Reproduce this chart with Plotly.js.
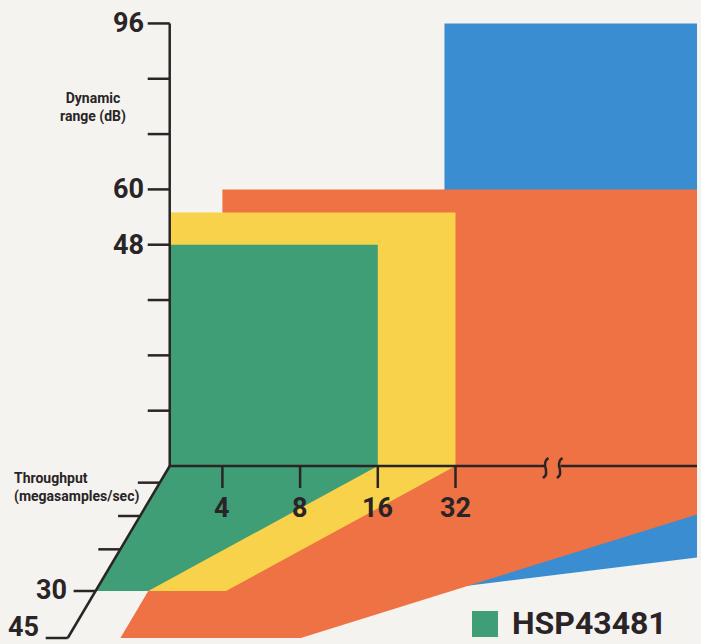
<!DOCTYPE html>
<html><head><meta charset="utf-8">
<script src="https://cdn.plot.ly/plotly-3.0.1.min.js"></script>
<style>html,body{margin:0;padding:0;background:#f4f3ef;}#chart{width:701px;height:644px;}</style>
</head><body><div id="chart"></div>
<script>
// ---------------- data ----------------
const devices = ['HSP43481', 'Device B', 'Device C', 'Device D'];
const dynamicRangeDb = [48, 55, 60, 96];
const startValue = [2.5, 2.5, 4, 29];          // horizontal start of each block
const frontEndValue = [16, 32, 1100, 211000];   // horizontal end at the front (values past the break are off-scale)
const backEndValue = [4, 8, 20, 66];            // horizontal end at the back of the floor
const maxThroughput = [30, 30, 45, 28.8];       // depth (megasamples/sec)
const dbTickVals = [12, 24, 36, 48, 60, 72, 84, 96];
const dbTickText = ['', '', '', '48', '60', '', '', '96'];
const xTickVals = [4, 8, 16, 32];
const xTickText = ['4', '8', '16', '32'];
const depthTickVals = [4, 12, 20, 30, 45];
const depthTickText = ['', '', '', '30', '45'];
const axisOrigin = 2.5;
const axisBreak = 76;
const axisEnd = 1000;
const depthAxisMax = 45;

// ---------------- style / projection ----------------
const colors = ['#3f9e75', '#f8d24a', '#ee7243', '#3b8dd1'];
const ink = '#2a2426';
const FONT = "Roboto, 'DejaVu Sans Condensed', sans-serif";
const X0 = 67, XS = 77.7, Y0 = 466, YS = 4.61, SLANT = 0.593;
function depthPx(d) { return d <= 30 ? d * 125 / 30 : 125 + (d - 30) * 47 / 15; }
function P(v, db, d) { const dy = depthPx(d || 0); return [v * Math.pow(2, -SLANT * dy / XS), db - dy / YS]; }
function shiftX(v, px) { return v * Math.pow(2, px / XS); }
function shiftY(db, px) { return db - px / YS; }
function pxToV(px) { return Math.pow(2, (px - X0) / XS); }
function pxToDb(py) { return (Y0 - py) / YS; }
const L = Math.log10;

const traces = [];
// blocks, back to front
for (const i of [3, 2, 1, 0]) {
  const pts = [
    P(startValue[i], dynamicRangeDb[i], 0),
    P(frontEndValue[i], dynamicRangeDb[i], 0),
    P(frontEndValue[i], 0, 0),
    P(backEndValue[i], 0, maxThroughput[i]),
    P(startValue[i], 0, maxThroughput[i]),
    P(startValue[i], 0, 0)
  ];
  traces.push({
    type: 'scatter', mode: 'lines', name: devices[i],
    x: pts.map(p => p[0]), y: pts.map(p => p[1]),
    fill: 'toself', fillcolor: colors[i], line: { width: 0, color: colors[i] },
    showlegend: false, hoverinfo: 'skip'
  });
}

// axes lines
const ax = { x: [], y: [] };
function seg(a, b) { ax.x.push(a[0], b[0], null); ax.y.push(a[1], b[1], null); }
seg([axisOrigin, 0], [axisOrigin, dbTickVals[dbTickVals.length - 1]]);
dbTickVals.forEach(v => seg([shiftX(axisOrigin, -22), v], [axisOrigin, v]));
seg([axisOrigin, 0], [shiftX(axisBreak, -8), 0]);
seg([shiftX(axisBreak, 8), 0], [axisEnd, 0]);
xTickVals.forEach(v => seg([v, 0], [v, shiftY(0, 22)]));
seg(P(axisOrigin, 0, 0), P(axisOrigin, 0, depthAxisMax));
depthTickVals.forEach(d => { const p = P(axisOrigin, 0, d); seg([shiftX(p[0], -22), p[1]], p); });
traces.push({ type: 'scatter', mode: 'lines', x: ax.x, y: ax.y, line: { color: ink, width: 2.5 }, showlegend: false, hoverinfo: 'skip' });

// break symbol
const sPts = [[3, -8], [0.5, -5.5], [-0.5, -1], [0.5, 4], [0.3, 9], [-2.5, 12]];
[-7, 7].forEach(o => {
  traces.push({
    type: 'scatter', mode: 'lines', line: { color: ink, width: 2.5, shape: 'spline' },
    x: sPts.map(p => shiftX(axisBreak, o + p[0])), y: sPts.map(p => shiftY(0, p[1])),
    showlegend: false, hoverinfo: 'skip'
  });
});

// legend swatch
traces.push({
  type: 'scatter', mode: 'markers', x: [pxToV(485)], y: [pxToDb(624)],
  marker: { symbol: 'square', size: 26, color: colors[0] }, showlegend: false, hoverinfo: 'skip'
});

const annotations = [];
function ann(x, y, text, size, xanchor, extra) {
  annotations.push(Object.assign({ x: L(x), y: y, text: text, showarrow: false, xanchor: xanchor, yanchor: 'middle',
    font: { family: FONT, size: size, color: ink, weight: 700 } }, extra || {}));
}
dbTickVals.forEach((v, k) => { if (dbTickText[k]) ann(shiftX(axisOrigin, -24), v, dbTickText[k], 27, 'right'); });
xTickVals.forEach((v, k) => ann(v, shiftY(0, 42), xTickText[k], 27, 'center'));
depthTickVals.forEach((d, k) => {
  if (depthTickText[k]) {
    const p = P(axisOrigin, 0, d);
    ann(shiftX(p[0], -27), Math.max(shiftY(p[1], -1), pxToDb(627)), depthTickText[k], 27, 'right');
  }
});
ann(pxToV(93), pxToDb(107), 'Dynamic<br>range (dB)', 14, 'center', { align: 'center' });
ann(pxToV(12), pxToDb(487), 'Throughput<br>(megasamples/sec)', 14, 'left', { align: 'left' });
ann(pxToV(510), pxToDb(623), devices[0], 32, 'left');

const layout = {
  width: 701, height: 644,
  margin: { l: 0, r: 4, t: 0, b: 0, pad: 0 },
  paper_bgcolor: '#f4f3ef', plot_bgcolor: '#f4f3ef',
  xaxis: { type: 'log', range: [L(pxToV(0)), L(pxToV(697))], visible: false, fixedrange: true },
  yaxis: { range: [pxToDb(644), pxToDb(0)], visible: false, fixedrange: true },
  showlegend: false, hovermode: false,
  annotations: annotations
};
Plotly.newPlot('chart', traces, layout, { staticPlot: true, displayModeBar: false });
</script></body></html>
